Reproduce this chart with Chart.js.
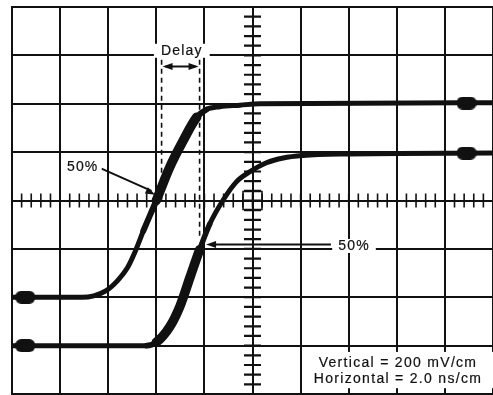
<!DOCTYPE html>
<html lang="en">
  <head>
    <meta charset="UTF-8" />
    <title>Propagation delay</title>
    <script src="https://cdn.jsdelivr.net/npm/chart.js@4.4.1/dist/chart.umd.min.js"></script>
    <style>
      body { margin: 0; background: #fff; }
      canvas { display: block; }
    </style>
  </head>
  <body>
    <canvas id="scope" width="493" height="395"></canvas>
    <script>
      // time in ns (2.0 ns/cm), voltage in mV (200 mV/cm)
      const trace1Time = [0, 2.9, 3.4, 3.9, 4.4, 4.8, 5.1, 5.46, 6.0, 6.56, 7.12, 7.68, 8.08, 8.64, 9.48, 10.3, 20]
      const trace1Volt = [-400, -400, -394, -374, -330, -278, -216, -126, 0, 138, 248, 344, 376, 388, 394, 400, 404]

      const trace2Time = [0, 5.6, 6.0, 6.56, 6.98, 7.4, 7.8, 8.22, 8.78, 9.34, 9.88, 10.58, 11.28, 12.1, 13.62, 20]
      const trace2Volt = [-600, -600, -586, -522, -438, -318, -204, -98, 2, 78, 118, 156, 176, 186, 192, 196]

      // intensified end dots of each sweep
      const blobTime = [0.55, 18.9]
      const blob1Volt = [-400, 403]
      const blob2Volt = [-600, 196]

      const ink = "#111"
      const font = '14px "Liberation Sans", Arial, sans-serif'

      // the fast edge is smeared wider on the screen
      function bandWidth(t, band) {
        const taper = 0.35
        let f = 1
        if (t < band[0]) f = 1 - (band[0] - t) / taper
        if (t > band[1]) f = 1 - (t - band[1]) / taper
        f = Math.max(0, Math.min(1, f))
        return 5 + 4.5 * f
      }

      function makeBlob() {
        const c = document.createElement("canvas")
        c.width = 20
        c.height = 13
        const g = c.getContext("2d")
        g.fillStyle = ink
        g.beginPath()
        g.roundRect(0, 0, 20, 13, 6)
        g.fill()
        return c
      }
      const blobImage = makeBlob()

      function traceDataset(times, volts, band) {
        return {
          data: times.map((t, i) => ({ x: t, y: volts[i] })),
          showLine: true,
          borderColor: ink,
          borderWidth: 5,
          borderCapStyle: "round",
          borderJoinStyle: "round",
          pointRadius: 0,
          cubicInterpolationMode: "monotone",
          segment: {
            borderWidth: (ctx) => bandWidth((ctx.p0.parsed.x + ctx.p1.parsed.x) / 2, band),
          },
        }
      }

      function blobDataset(times, volts) {
        return {
          data: times.map((t, i) => ({ x: t, y: volts[i] })),
          showLine: false,
          pointStyle: blobImage,
          pointRadius: 8,
          clip: false,
        }
      }

      function arrowHead(ctx, x0, y0, x1, y1) {
        const a = Math.atan2(y1 - y0, x1 - x0)
        const len = 10, half = 3.5
        ctx.beginPath()
        ctx.moveTo(x1, y1)
        ctx.lineTo(x1 - len * Math.cos(a) + half * Math.sin(a), y1 - len * Math.sin(a) - half * Math.cos(a))
        ctx.lineTo(x1 - len * Math.cos(a) - half * Math.sin(a), y1 - len * Math.sin(a) + half * Math.cos(a))
        ctx.closePath()
        ctx.fill()
      }

      // scanned print looks a bit heavier than a plain regular face
      function inkText(ctx, text, x, y) {
        ctx.fillText(text, x, y)
        ctx.lineWidth = 0.2
        ctx.strokeText(text, x, y)
      }

      function label(ctx, text, x, y, padX) {
        const w = ctx.measureText(text).width
        ctx.fillStyle = "#fff"
        ctx.fillRect(x - w / 2 - padX, y - 7, w + 2 * padX, 14)
        ctx.fillStyle = ink
        inkText(ctx, text, x, y)
      }

      const scopePlugin = {
        id: "scope",
        beforeDatasetsDraw(chart) {
          const { ctx, chartArea } = chart
          const px = (t) => chart.scales.x.getPixelForValue(t)
          const py = (v) => chart.scales.y.getPixelForValue(v)
          const cx = px(10), cy = py(0)
          ctx.save()
          ctx.strokeStyle = ink
          ctx.fillStyle = ink

          // minor graduations on the centre lines
          ctx.lineWidth = 1.6
          ctx.beginPath()
          for (let t = 0; t <= 20.01; t += 0.4) {
            ctx.moveTo(px(t), cy - 7)
            ctx.lineTo(px(t), cy + 7)
          }
          ctx.stroke()
          ctx.lineWidth = 2.2
          ctx.beginPath()
          for (let v = -800; v <= 800.1; v += 40) {
            ctx.moveTo(cx - 8.5, py(v))
            ctx.lineTo(cx + 8.5, py(v))
          }
          ctx.stroke()
          ctx.lineWidth = 1.5
          ctx.strokeRect(cx - 9.5, cy - 9, 19, 18)

          // delay markers
          ctx.setLineDash([5, 4])
          ctx.lineWidth = 1.6
          ctx.beginPath()
          ctx.moveTo(px(6.22), py(582))
          ctx.lineTo(px(6.22), py(0))
          ctx.moveTo(px(7.8), py(582))
          ctx.lineTo(px(7.8), py(-148))
          ctx.stroke()
          ctx.setLineDash([])

          ctx.lineWidth = 2
          ctx.beginPath()
          ctx.moveTo(px(6.22) + 4, py(554))
          ctx.lineTo(px(7.8) - 4, py(554))
          ctx.stroke()
          arrowHead(ctx, px(7.0), py(554), px(6.22) + 1, py(554))
          arrowHead(ctx, px(7.0), py(554), px(7.8) - 1, py(554))

          // 50% pointers
          ctx.beginPath()
          ctx.moveTo(px(3.72), py(132))
          ctx.lineTo(px(5.8), py(40))
          ctx.moveTo(px(13.26), py(-182))
          ctx.lineTo(px(8.3), py(-182))
          ctx.stroke()
          arrowHead(ctx, px(3.72), py(132), px(5.96), py(24))
          arrowHead(ctx, px(13.26), py(-182), px(8.07), py(-182))

          // labels
          ctx.font = font
          ctx.letterSpacing = "1.2px"
          ctx.textAlign = "center"
          ctx.textBaseline = "middle"
          label(ctx, "Delay", px(7.06), py(619), 7)
          label(ctx, "50%", px(2.94), py(136), 3)
          label(ctx, "50%", px(14.22), py(-188), 6)

          ctx.fillStyle = "#fff"
          ctx.fillRect(px(12.3), py(-626), chartArea.right - px(12.3), py(-776) - py(-626))
          ctx.fillStyle = ink
          ctx.letterSpacing = "1.3px"
          inkText(ctx, "Vertical = 200 mV/cm", px(16.05), py(-674))
          inkText(ctx, "Horizontal = 2.0 ns/cm", px(16.05), py(-737))
          ctx.restore()
        },
      }

      const axisStyle = {
        grid: { color: ink, lineWidth: 2, drawTicks: false },
        border: { color: ink, width: 2 },
      }

      new Chart(document.getElementById("scope"), {
        type: "scatter",
        data: {
          datasets: [
            traceDataset(trace1Time, trace1Volt, [6.0, 7.6]),
            traceDataset(trace2Time, trace2Volt, [6.1, 7.7]),
            blobDataset(blobTime, blob1Volt),
            blobDataset(blobTime, blob2Volt),
          ],
        },
        options: {
          responsive: false,
          animation: false,
          events: [],
          layout: { autoPadding: false, padding: { left: 12, top: 7, right: 0, bottom: 1 } },
          plugins: { legend: { display: false }, tooltip: { enabled: false } },
          scales: {
            x: { type: "linear", min: 0, max: 20, ...axisStyle, ticks: { display: false, stepSize: 2 } },
            y: { type: "linear", min: -800, max: 800, ...axisStyle, ticks: { display: false, stepSize: 200 } },
          },
        },
        plugins: [scopePlugin],
      })
    </script>
  </body>
</html>
